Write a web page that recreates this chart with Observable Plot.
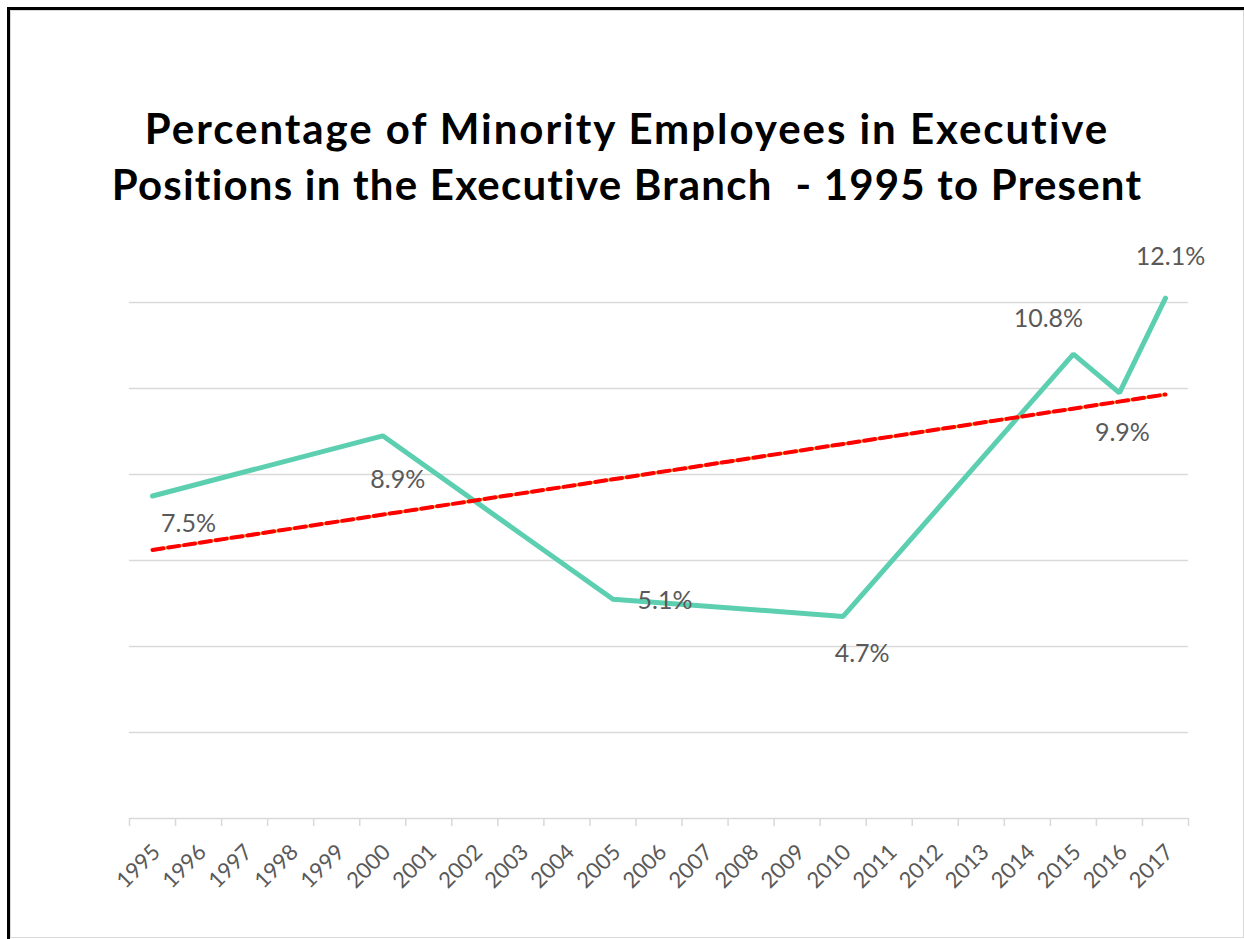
<!DOCTYPE html>
<html>
<head>
<meta charset="utf-8">
<script src="https://cdn.jsdelivr.net/npm/d3@7"></script>
<script src="https://cdn.jsdelivr.net/npm/@observablehq/plot@0.6"></script>
<style>
  html, body { margin: 0; padding: 0; background: #fff; }
  body { width: 1244px; height: 939px; position: relative; overflow: hidden; font-family: Lato, "Open Sans", sans-serif; }
  #frame { position: absolute; left: 7px; top: 7px; width: 1234px; height: 929px; border-left: 3px solid #000; border-top: 3px solid #000; }
  #inner { position: absolute; left: 10px; top: 10px; width: 1232px; height: 926px; border: 1px solid #d9d9d9; }
  #title { position: absolute; left: 11px; width: 1232px; top: 100px; text-align: center; font-family: Lato, sans-serif; font-weight: 700; font-size: 42px; line-height: 56px; color: #000; }
  #title span { white-space: nowrap; display: inline-block; }
  #chart { position: absolute; left: 0; top: 240px; }
</style>
</head>
<body>
<div id="frame"></div>
<div id="inner"></div>
<div id="title"><span id="t1">Percentage of Minority Employees in Executive</span><br><span id="t2">Positions in the Executive Branch&nbsp; - 1995 to Present</span></div>
<div id="chart"></div>
<script>
// ---- data ----
const years = ["1995","1996","1997","1998","1999","2000","2001","2002","2003","2004","2005","2006","2007","2008","2009","2010","2011","2012","2013","2014","2015","2016","2017"];
const dataYears = ["1995","2000","2005","2010","2015","2016","2017"];
const values = [7.5, 8.9, 5.1, 4.7, 10.8, 9.9, 12.1];
const yTicks = [0, 2, 4, 6, 8, 10, 12];

// ---- fit title line widths to the reference (layout only) ----
[["t1", 965], ["t2", 1032]].forEach(([id, target]) => {
  const el = document.getElementById(id);
  const n = el.textContent.length;
  const w = el.getBoundingClientRect().width;
  el.style.letterSpacing = ((target - w) / n) + "px";
});

// ---- build table ----
const rows = dataYears.map((y, k) => ({year: y, i: years.indexOf(y), v: values[k], label: values[k].toFixed(1) + "%"}));

// label offsets (layout only)
const labelOffsets = {
  "1995": [36, 28], "2000": [15, 44], "2005": [52, 2], "2010": [19, 38],
  "2015": [-25, -35], "2016": [3, 40], "2017": [5, -41]
};

const boundaries = d3.range(years.length + 1).map(k => k - 0.5);
const centers = d3.range(years.length);

const labelMarks = rows.map(r => Plot.text([r], {
  x: "i", y: "v", text: "label",
  dx: labelOffsets[r.year][0], dy: labelOffsets[r.year][1],
  fill: "#595959", fontSize: 25, fontFamily: "Lato, sans-serif"
}));

const plot = Plot.plot({
  width: 1244,
  height: 690,
  marginLeft: 129,
  marginRight: 56,
  marginTop: 62,
  marginBottom: 112,
  x: {type: "linear", domain: [-0.5, years.length - 0.5], axis: null},
  y: {domain: [0, 12], axis: null},
  style: {background: "transparent", fontFamily: "Lato, sans-serif"},
  marks: [
    Plot.ruleY(yTicks, {stroke: "#d9d9d9", strokeWidth: 1.5}),
    Plot.axisX({ticks: boundaries, tickSize: 8, tickFormat: () => "", label: null, stroke: "#d9d9d9", strokeWidth: 1.5, strokeOpacity: 1}),
    Plot.axisX({ticks: centers, tickSize: 0, tickPadding: 30, dx: 4, tickRotate: -45, label: null, tickFormat: d => years[d], fill: "#595959", fontSize: 22, fontFamily: "Lato, sans-serif"}),
    Plot.line(rows, {x: "i", y: "v", stroke: "#5ccfb0", strokeWidth: 5, strokeLinejoin: "miter", strokeLinecap: "round"}),
    Plot.linearRegressionY(rows, {x: "i", y: "v", ci: 0, stroke: "#f5a030", strokeWidth: 3}),
    Plot.linearRegressionY(rows, {x: "i", y: "v", ci: 0, stroke: "#ff0000", strokeWidth: 4, strokeDasharray: "11,5"}),
    ...labelMarks
  ]
});
document.getElementById("chart").appendChild(plot);
</script>
</body>
</html>
